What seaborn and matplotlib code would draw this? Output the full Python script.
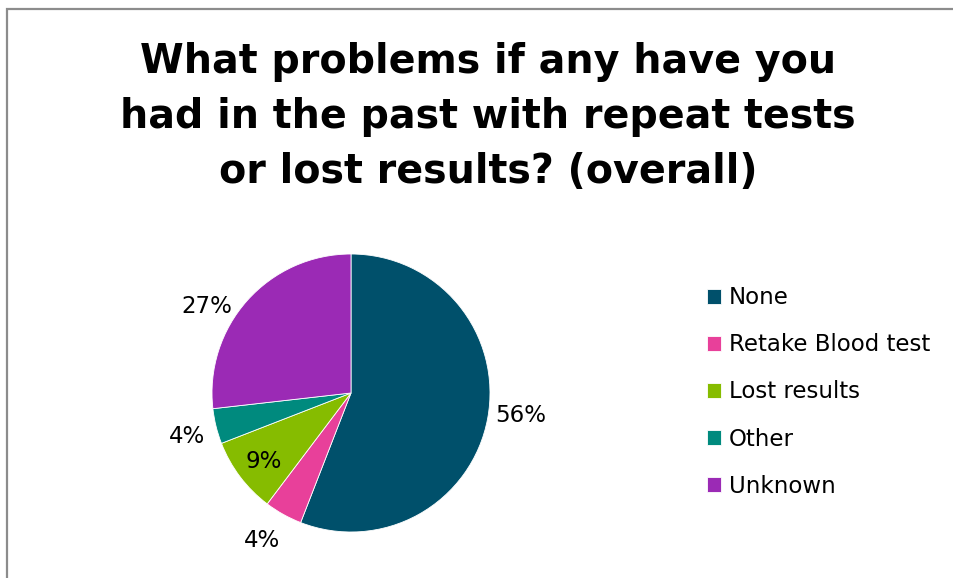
import matplotlib
matplotlib.use("Agg")
import matplotlib.pyplot as plt
import seaborn as sns
import numpy as np
from matplotlib.patches import Rectangle

# data
categories = ['None', 'Retake Blood test', 'Lost results', 'Other', 'Unknown']
shares = [55.9, 4.4, 8.8, 4.1, 26.8]
colors = ['#00506b', '#e8409a', '#86bc00', '#008a7e', '#9b2ab5']
# % label placement: distance from centre (radii) and angle nudge (deg)
label_dist = [1.23, 1.24, 0.80, 1.22, 1.21]
label_shift = [3, -2, 1, 1, 11]

sns.set_style("white")
plt.rcParams['font.family'] = ['DejaVu Sans']
plt.rcParams['text.color'] = 'black'

fig = plt.figure(figsize=(9.54, 5.78), dpi=100)
W, H = 954, 578

# pie axes: centre (351, 393), radius 139 px
cx, cy, r = 351, 393, 139
ax = fig.add_axes([(cx - r) / W, (H - cy - r) / H, 2 * r / W, 2 * r / H])

wedges, texts, autotexts = ax.pie(
    shares, colors=colors, startangle=90, counterclock=False,
    autopct='%.0f%%', pctdistance=1.22, radius=1,
    wedgeprops=dict(linewidth=0.6, edgecolor='white'),
    textprops=dict(fontsize=16.5, color='black'))

for w, t, d, s in zip(wedges, autotexts, label_dist, label_shift):
    mid = np.deg2rad((w.theta1 + w.theta2) / 2 + s)
    t.set_position((d * np.cos(mid), d * np.sin(mid)))
    t.set_ha('center')
    t.set_va('center')

ax.set_xlim(-1, 1)
ax.set_ylim(-1, 1)
ax.set_aspect('equal')
ax.axis('off')

fig.text(488 / W, 1 - 117 / H,
         'What problems if any have you\nhad in the past with repeat tests\nor lost results? (overall)',
         ha='center', va='center', fontsize=28.5, fontweight='bold',
         linespacing=1.48, color='black')

leg = fig.legend(wedges, categories, loc='center left',
                 bbox_to_anchor=(698 / W, 1 - 392 / H),
                 frameon=False, fontsize=16.5, handlelength=0.62, handleheight=0.62,
                 handletextpad=0.32, labelspacing=1.05, borderaxespad=0,
                 labelcolor='black')

# outer chart border (left and top edges visible)
fig.add_artist(Rectangle((7 / W, -0.1), 1.2, 1 - 9 / H + 0.1,
                         transform=fig.transFigure, fill=False,
                         edgecolor='#8c8c8c', linewidth=1.6))

fig.savefig('out.png', dpi=100, facecolor='white')
